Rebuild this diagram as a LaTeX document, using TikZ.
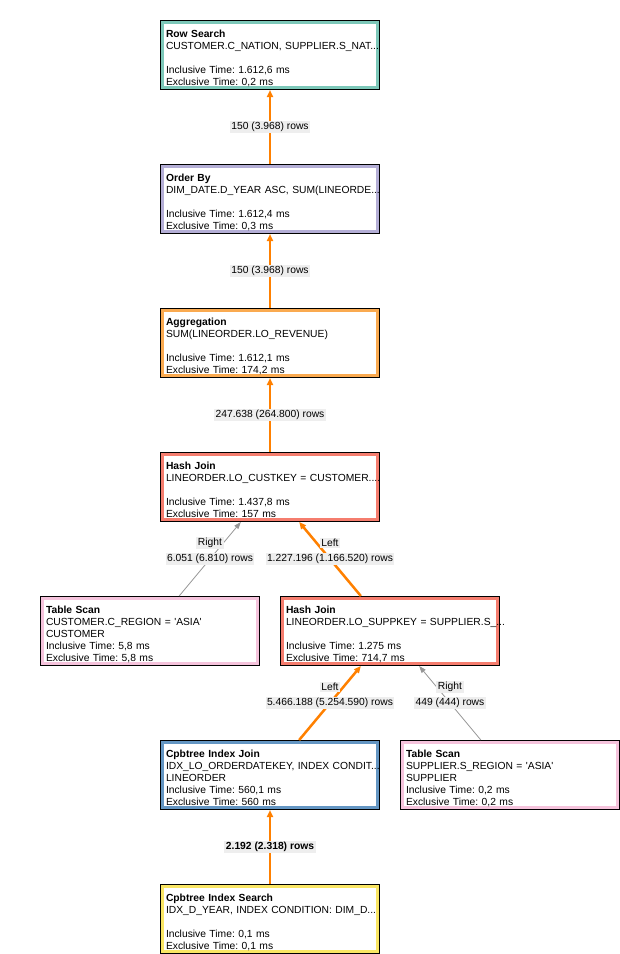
\documentclass[tikz,border=0pt]{standalone}
\usepackage{fontspec}
\setmainfont{Liberation Sans}[Ligatures=TeXOff]
\usetikzlibrary{arrows.meta}

\definecolor{rowcol}{RGB}{125,200,185}
\definecolor{ordercol}{RGB}{180,174,214}
\definecolor{aggcol}{RGB}{250,170,80}
\definecolor{joincol}{RGB}{245,125,110}
\definecolor{scancol}{RGB}{245,195,220}
\definecolor{indexcol}{RGB}{100,150,195}
\definecolor{searchcol}{RGB}{250,230,100}
\definecolor{flowcol}{RGB}{255,128,0}
\definecolor{probecol}{RGB}{150,150,150}
\definecolor{lblcol}{RGB}{238,238,238}

% first two lines of an operator box
\newcommand{\optitle}[1]{\rule{0pt}{13.5pt}\textbf{#1}}
\newcommand{\opdetail}[1]{\mbox{#1}}

\begin{document}
\begin{tikzpicture}[
        x = 1pt, y = -1pt,
        > = {Triangle[length = 7pt, width = 6pt]},
        font = \fontsize{10.3}{12}\selectfont\frenchspacing,
        opbox/.style = {
            draw = #1, line width = 3pt, fill = white,
            preaction = {draw = black, line width = 5pt},
            minimum width = 215pt, minimum height = 65pt,
            text width = 208pt, inner xsep = 3.5pt, inner ysep = 0pt,
            outer sep = 2.5pt, align = left
        },
        flow/.style = {->, draw = flowcol, line width = 2.5pt},
        probe/.style = {->, draw = probecol, line width = 0.8pt, > = {Triangle[length = 7pt, width = 5pt]}},
        rowlbl/.style = {fill = lblcol, inner sep = 1.5pt, text = black}
    ]
        \useasboundingbox (0,0) rectangle (620,954);

        % operators
        \node[opbox = rowcol] (rowsearch) at (270,55) {\optitle{Row Search}\\
            \opdetail{CUSTOMER.C\_NATION, SUPPLIER.S\_NAT...}\\[12pt]
            Inclusive Time: 1.612,6 ms\\
            Exclusive Time: 0,2 ms};
        \node[opbox = ordercol] (orderby) at (270,199) {\optitle{Order By}\\
            \opdetail{DIM\_DATE.D\_YEAR ASC, SUM(LINEORDE...}\\[12pt]
            Inclusive Time: 1.612,4 ms\\
            Exclusive Time: 0,3 ms};
        \node[opbox = aggcol] (aggregation) at (270,343) {\optitle{Aggregation}\\
            \opdetail{SUM(LINEORDER.LO\_REVENUE)}\\[12pt]
            Inclusive Time: 1.612,1 ms\\
            Exclusive Time: 174,2 ms};
        \node[opbox = joincol] (hashjoina) at (270,487) {\optitle{Hash Join}\\
            \opdetail{LINEORDER.LO\_CUSTKEY = CUSTOMER....}\\[12pt]
            Inclusive Time: 1.437,8 ms\\
            Exclusive Time: 157 ms};
        \node[opbox = scancol] (scancust) at (150,631) {\optitle{Table Scan}\\
            \opdetail{CUSTOMER.C\_REGION = 'ASIA'}\\
            CUSTOMER\\
            Inclusive Time: 5,8 ms\\
            Exclusive Time: 5,8 ms};
        \node[opbox = joincol] (hashjoinb) at (390,631) {\optitle{Hash Join}\\
            \opdetail{LINEORDER.LO\_SUPPKEY = SUPPLIER.S\_...}\\[12pt]
            Inclusive Time: 1.275 ms\\
            Exclusive Time: 714,7 ms};
        \node[opbox = indexcol] (indexjoin) at (270,775) {\optitle{Cpbtree Index Join}\\
            \opdetail{IDX\_LO\_ORDERDATEKEY, INDEX CONDIT...}\\
            LINEORDER\\
            Inclusive Time: 560,1 ms\\
            Exclusive Time: 560 ms};
        \node[opbox = scancol] (scansupp) at (510,775) {\optitle{Table Scan}\\
            \opdetail{SUPPLIER.S\_REGION = 'ASIA'}\\
            SUPPLIER\\
            Inclusive Time: 0,2 ms\\
            Exclusive Time: 0,2 ms};
        \node[opbox = searchcol] (indexsearch) at (270,919) {\optitle{Cpbtree Index Search}\\
            \opdetail{IDX\_D\_YEAR, INDEX CONDITION: DIM\_D...}\\[12pt]
            Inclusive Time: 0,1 ms\\
            Exclusive Time: 0,1 ms};

        % row flows
        \draw[flow] (orderby) -- (rowsearch) node[midway, rowlbl] {150 (3.968) rows};
        \draw[flow] (aggregation) -- (orderby) node[midway, rowlbl] {150 (3.968) rows};
        \draw[flow] (hashjoina) -- (aggregation) node[midway, rowlbl] {247.638 (264.800) rows};
        \draw[probe] (scancust) -- (hashjoina)
            node[midway, rowlbl] {6.051 (6.810) rows}
            node[midway, rowlbl, yshift = 16pt] {Right};
        \draw[flow] (hashjoinb) -- (hashjoina)
            node[midway, rowlbl] {1.227.196 (1.166.520) rows}
            node[midway, rowlbl, yshift = 16pt] {Left};
        \draw[flow] (indexjoin) -- (hashjoinb)
            node[midway, rowlbl] {5.466.188 (5.254.590) rows}
            node[midway, rowlbl, yshift = 16pt] {Left};
        \draw[probe] (scansupp) -- (hashjoinb)
            node[midway, rowlbl] {449 (444) rows}
            node[midway, rowlbl, yshift = 16pt] {Right};
        \draw[flow] (indexsearch) -- (indexjoin) node[midway, rowlbl, font = \fontsize{10.3}{12}\selectfont\bfseries] {2.192 (2.318) rows};
    \end{tikzpicture}
\end{document}
